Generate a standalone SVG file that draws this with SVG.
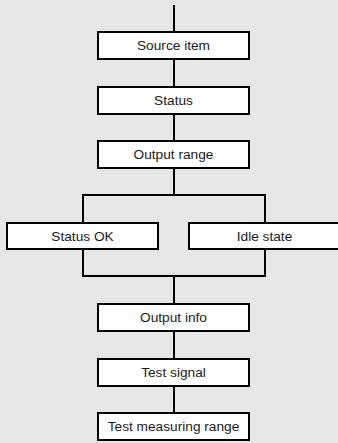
<svg xmlns="http://www.w3.org/2000/svg" width="338" height="443" viewBox="0 0 338 443">
<style>
.box{fill:#ffffff;stroke:#000000;stroke-width:2}
.lbl{font-family:"Liberation Sans",Arial,sans-serif;font-size:13.7px;fill:#1a1a1a;text-anchor:middle}
.ln{fill:none;stroke:#000000;stroke-width:2}
</style>
<rect x="0" y="0" width="338" height="443" fill="#e6e6e6"/>
<g id="connectors">
<path class="ln" d="M174 5V32"/>
<path class="ln" d="M174 59V87"/>
<path class="ln" d="M174 114V141"/>
<path class="ln" d="M174 168V195"/>
<path class="ln" d="M83 223V195H265V223"/>
<path class="ln" d="M83 249V276H265V249"/>
<path class="ln" d="M174 276V304"/>
<path class="ln" d="M174 331V359"/>
<path class="ln" d="M174 386V413"/>
</g>
<g id="source-item"><rect class="box" x="98" y="32" width="151" height="27"/><text class="lbl" x="173.5" y="49.5">Source item</text></g>
<g id="status"><rect class="box" x="98" y="87" width="151" height="27"/><text class="lbl" x="173.5" y="104.5">Status</text></g>
<g id="output-range"><rect class="box" x="98" y="141" width="151" height="27"/><text class="lbl" x="173.5" y="158.5">Output range</text></g>
<g id="status-ok"><rect class="box" x="7" y="223" width="151" height="26"/><text class="lbl" x="82.5" y="240.5">Status OK</text></g>
<g id="idle-state"><rect class="box" x="189" y="223" width="151" height="26"/><text class="lbl" x="264.5" y="240.5">Idle state</text></g>
<g id="output-info"><rect class="box" x="98" y="304" width="151" height="27"/><text class="lbl" x="173.5" y="321.5">Output info</text></g>
<g id="test-signal"><rect class="box" x="98" y="359" width="151" height="27"/><text class="lbl" x="173.5" y="376.5">Test signal</text></g>
<g id="test-measuring-range"><rect class="box" x="98" y="413" width="151" height="27"/><text class="lbl" x="173.5" y="430.5">Test measuring range</text></g>
</svg>
